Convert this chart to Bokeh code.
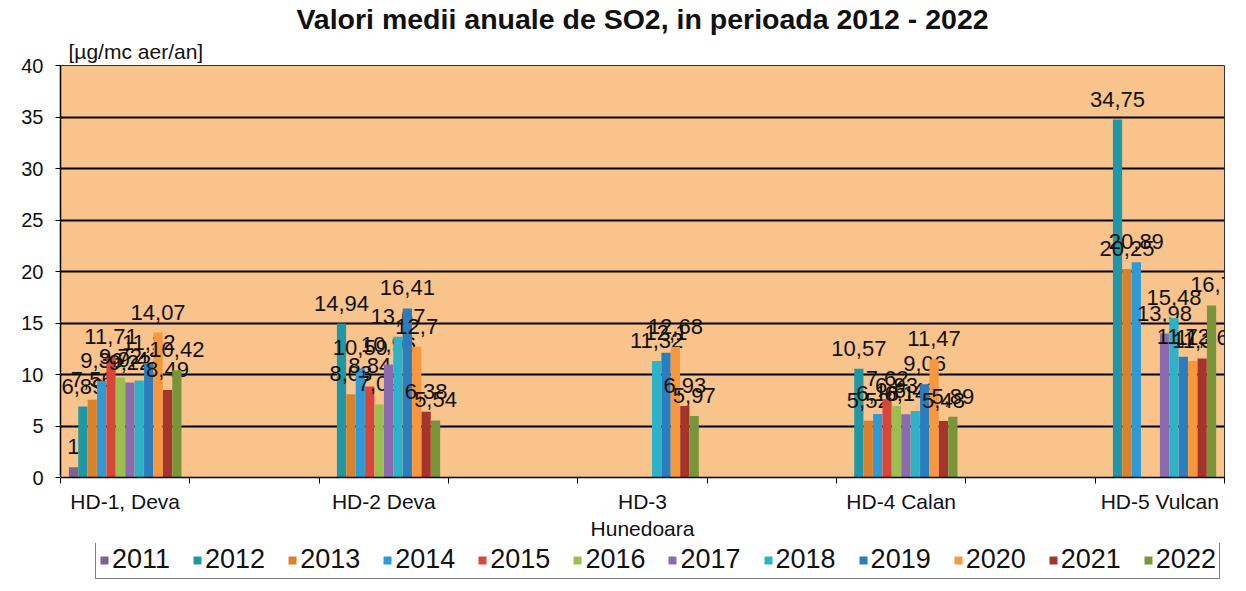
from bokeh.plotting import figure
from bokeh.layouts import column
from bokeh.models import (ColumnDataSource, Legend, LegendItem, Range1d,
                          LinearAxis, FixedTicker, Title)
from bokeh.transform import dodge
from bokeh.core.properties import value
from bokeh.embed import file_html
from bokeh.resources import INLINE

# ---------------- data ----------------
stations = ["HD-1, Deva", "HD-2 Deva", "HD-3\nHunedoara", "HD-4 Calan", "HD-5 Vulcan"]
years = ["2011", "2012", "2013", "2014", "2015", "2016", "2017", "2018", "2019", "2020", "2021", "2022"]

v2011 = [1, None, None, None, None]
v2012 = [6.89, 14.94, None, 10.57, 34.75]
v2013 = [7.56, 8.08, None, 5.52, 20.25]
v2014 = [9.36, 10.59, None, 6.16, 20.89]
v2015 = [11.71, 8.84, None, 7.62, None]
v2016 = [9.72, 7.09, None, 6.93, None]
v2017 = [9.22, 10.96, None, 6.14, 13.98]
v2018 = [9.42, 13.67, 11.32, 6.46, 15.48]
v2019 = [11.12, 16.41, 12.1, 9.06, 11.72]
v2020 = [14.07, 12.7, 12.68, 11.47, 11.3]
v2021 = [8.49, 6.38, 6.93, 5.48, 11.56]
v2022 = [10.42, 5.54, 5.97, 5.89, 16.7]
series = [v2011, v2012, v2013, v2014, v2015, v2016, v2017, v2018, v2019, v2020, v2021, v2022]

colors = ["#7D6390", "#1F97A6", "#D9822E", "#2E9AD6", "#D8453A", "#9CBE4E",
          "#8B6AAE", "#2DB2C8", "#2A7DBE", "#F7983F", "#A5342C", "#78953A"]

FONT = "Liberation Sans"

n_slots = 2 * len(stations) - 1
centers = [4 * i + 1 for i in range(len(stations))]
boundaries = list(range(0, 2 * n_slots + 1, 2))

p = figure(x_range=Range1d(0, 2 * n_slots), y_range=Range1d(0, 40),
           frame_width=1164, frame_height=412,
           min_border_left=60, min_border_right=22, min_border_top=64, min_border_bottom=0,
           x_axis_location=None, output_backend="svg", toolbar_location=None,
           background_fill_color="#F9C38C", border_fill_color="white",
           title="Valori medii anuale de SO2, in perioada 2012 - 2022")

p.title.align = "center"
p.title.offset = 13
p.title.text_font = FONT
p.title.text_font_size = "28.5px"
p.title.text_font_style = "bold"
p.title.text_color = "#111111"
p.title.standoff = 0

unit = Title(text="[µg/mc aer/an]", align="left", offset=8, standoff=6,
             text_font=FONT, text_font_size="21px", text_font_style="normal",
             text_color="#111111", text_line_height=0.55)
p.add_layout(unit, "above")

p.outline_line_color = "#333333"
p.outline_line_width = 1

p.xgrid.grid_line_color = None
p.ygrid.grid_line_color = "black"
p.ygrid.grid_line_width = 2.2
p.ygrid.ticker = FixedTicker(ticks=list(range(0, 41, 5)))

yax = p.yaxis[0]
yax.ticker = FixedTicker(ticks=list(range(0, 41, 5)))
yax.major_label_text_font = FONT
yax.major_label_text_font_size = "20px"
yax.major_label_text_color = "#111111"
yax.major_tick_out = 5
yax.major_tick_in = 0
yax.minor_tick_line_color = None
yax.axis_line_color = "black"
yax.axis_line_width = 1.5
yax.major_label_standoff = 12

tick_axis = LinearAxis(ticker=FixedTicker(ticks=boundaries),
                       major_label_text_font_size="0px", major_tick_out=6, major_tick_in=0,
                       minor_tick_line_color=None, axis_line_color="black", axis_line_width=1.5,
                       major_label_standoff=0)
p.add_layout(tick_axis, "below")

cat_axis = LinearAxis(ticker=FixedTicker(ticks=centers),
                      major_label_overrides={c: s for c, s in zip(centers, stations)},
                      major_tick_line_color=None, minor_tick_line_color=None, axis_line_color=None,
                      major_label_text_font=FONT, major_label_text_font_size="21px",
                      major_label_text_color="#111111", major_label_standoff=0)
p.add_layout(cat_axis, "below")

n = len(years)
bw = 2 * 0.0727
for i, (yr, vals, col) in enumerate(zip(years, series, colors)):
    xs = [c for c, v in zip(centers, vals) if v is not None]
    ys = [v for v in vals if v is not None]
    labels = [("%g" % v).replace(".", ",") for v in ys]
    src = ColumnDataSource(dict(x=xs, y=ys, label=labels))
    off = (i - (n - 1) / 2) * bw
    p.vbar(x=dodge("x", off), top="y", width=bw * 0.98, source=src,
           fill_color=col, line_color=None)
    p.text(x=dodge("x", off), y="y", text="label", source=src,
           text_align="center", text_baseline="bottom", y_offset=-13,
           text_font=value(FONT), text_font_size="22px", text_color="#111111")

# legend strip (separate figure below the chart, same colours as the bars)
lp = figure(width=1246, height=53, x_range=Range1d(0, 1), y_range=Range1d(0, 1),
            min_border=0, output_backend="svg", toolbar_location=None,
            x_axis_location=None, y_axis_location=None, outline_line_color=None,
            background_fill_color="white", border_fill_color="white")
lp.xgrid.grid_line_color = None
lp.ygrid.grid_line_color = None
items = []
for yr, col in zip(years, colors):
    # legend swatch proxies, placed outside the visible range
    lr = lp.quad(left=[-5], right=[-4], bottom=[0], top=[1], fill_color=col, line_color=None)
    items.append(LegendItem(label=yr, renderers=[lr]))
legend = Legend(items=items, orientation="horizontal", location=(35, 17),
                label_text_font=FONT, label_text_font_size="27px", label_text_color="#111111",
                glyph_width=10, glyph_height=10, label_standoff=3, spacing=22, padding=3,
                border_line_color="black", border_line_width=1.5, background_fill_color="white",
                margin=0)
lp.add_layout(legend, "center")

layout = column(p, lp, spacing=0)
open("out.html", "w").write(file_html(layout, INLINE))
